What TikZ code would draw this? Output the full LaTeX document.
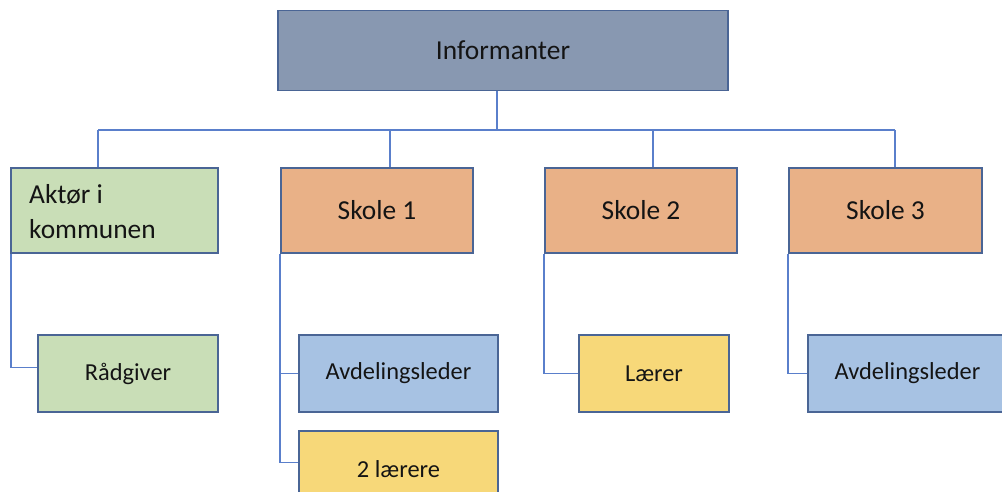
\documentclass[tikz,border=0pt]{standalone}
\usepackage{fontspec}
\setmainfont{Carlito}
\usetikzlibrary{calc}
\definecolor{infc}{HTML}{8898B1}
\definecolor{grn}{HTML}{C9DEB7}
\definecolor{org}{HTML}{E9B187}
\definecolor{blu}{HTML}{A7C2E3}
\definecolor{yel}{HTML}{F7D879}
\definecolor{bord}{HTML}{4A6595}
\definecolor{conc}{HTML}{5A7FCB}
\definecolor{txt}{HTML}{141414}
\tikzset{
  box/.style={draw=bord, line width=1.8bp, rectangle, inner sep=0pt, text=txt},
  lvltop/.style={box, fill=infc, minimum width=450bp, minimum height=80bp, font=\fontsize{27.5}{32}\selectfont},
  lvltwo/.style={box, minimum width=192bp, minimum height=85bp, font=\fontsize{27.5}{34}\selectfont},
  lvlthree/.style={box, minimum width=199bp, minimum height=77bp, font=\fontsize{24.5}{29}\selectfont},
  conn/.style={draw=conc, line width=1.6bp}
}
\begin{document}
\begin{tikzpicture}[x=1bp,y=-1bp]
\useasboundingbox (0,0) rectangle (1002,492);
\clip (0,0) rectangle (1002,492);
\fill[white] (0,0) rectangle (1002,492);

% top
\node[lvltop] (inf) at (503,50.5) {Informanter};

% bus coordinates
\coordinate (top) at (497,130);
\coordinate (d1) at (98,130);
\coordinate (d2) at (390,130);
\coordinate (d3) at (653,130);
\coordinate (d4) at (895,130);

% level two
\node[lvltwo, fill=grn, minimum width=207bp] (akt) at (114.5,210.5) {};
\node[anchor=west, align=left, inner sep=0pt, text=txt, font=\fontsize{27.5}{35}\selectfont] (akttxt) at (29,212) {Aktør i\\kommunen};
\node[lvltwo, fill=org] (s1) at (377,210.5) {Skole 1};
\node[lvltwo, fill=org] (s2) at (641,210.5) {Skole 2};
\node[lvltwo, fill=org, minimum width=193bp] (s3) at (885.5,210.5) {Skole 3};

% level three
\node[lvlthree, fill=grn, minimum width=180bp] (rad) at (128,373.5) {Rådgiver};
\node[lvlthree, fill=blu] (av1) at (398.5,373.5) {Avdelingsleder};
\node[lvlthree, fill=yel] (lae2) at (398.5,469.5) {2 lærere};
\node[lvlthree, fill=yel, minimum width=150bp] (lae) at (654,373.5) {Lærer};
\node[lvlthree, fill=blu] (av3) at (907.5,373.5) {Avdelingsleder};

% connectors
\draw[conn] (inf.south -| top) -- (top);
\draw[conn] (d1) -- (d4);
\draw[conn] (d1) -- (akt.north -| d1);
\draw[conn] (d2) -- (s1.north -| d2);
\draw[conn] (d3) -- (s2.north -| d3);
\draw[conn] (d4) -- (s3.north -| d4);

\draw[conn] ($(akt.south west)+(1,0)$) |- ($(rad.west)+(0,-6)$);
\draw[conn] (s1.south west) |- (av1.west);
\draw[conn] (s1.south west) |- ($(lae2.west)+(0,-7)$);
\draw[conn] (s2.south west) |- (lae.west);
\draw[conn] (s3.south west) |- (av3.west);
\end{tikzpicture}
\end{document}
